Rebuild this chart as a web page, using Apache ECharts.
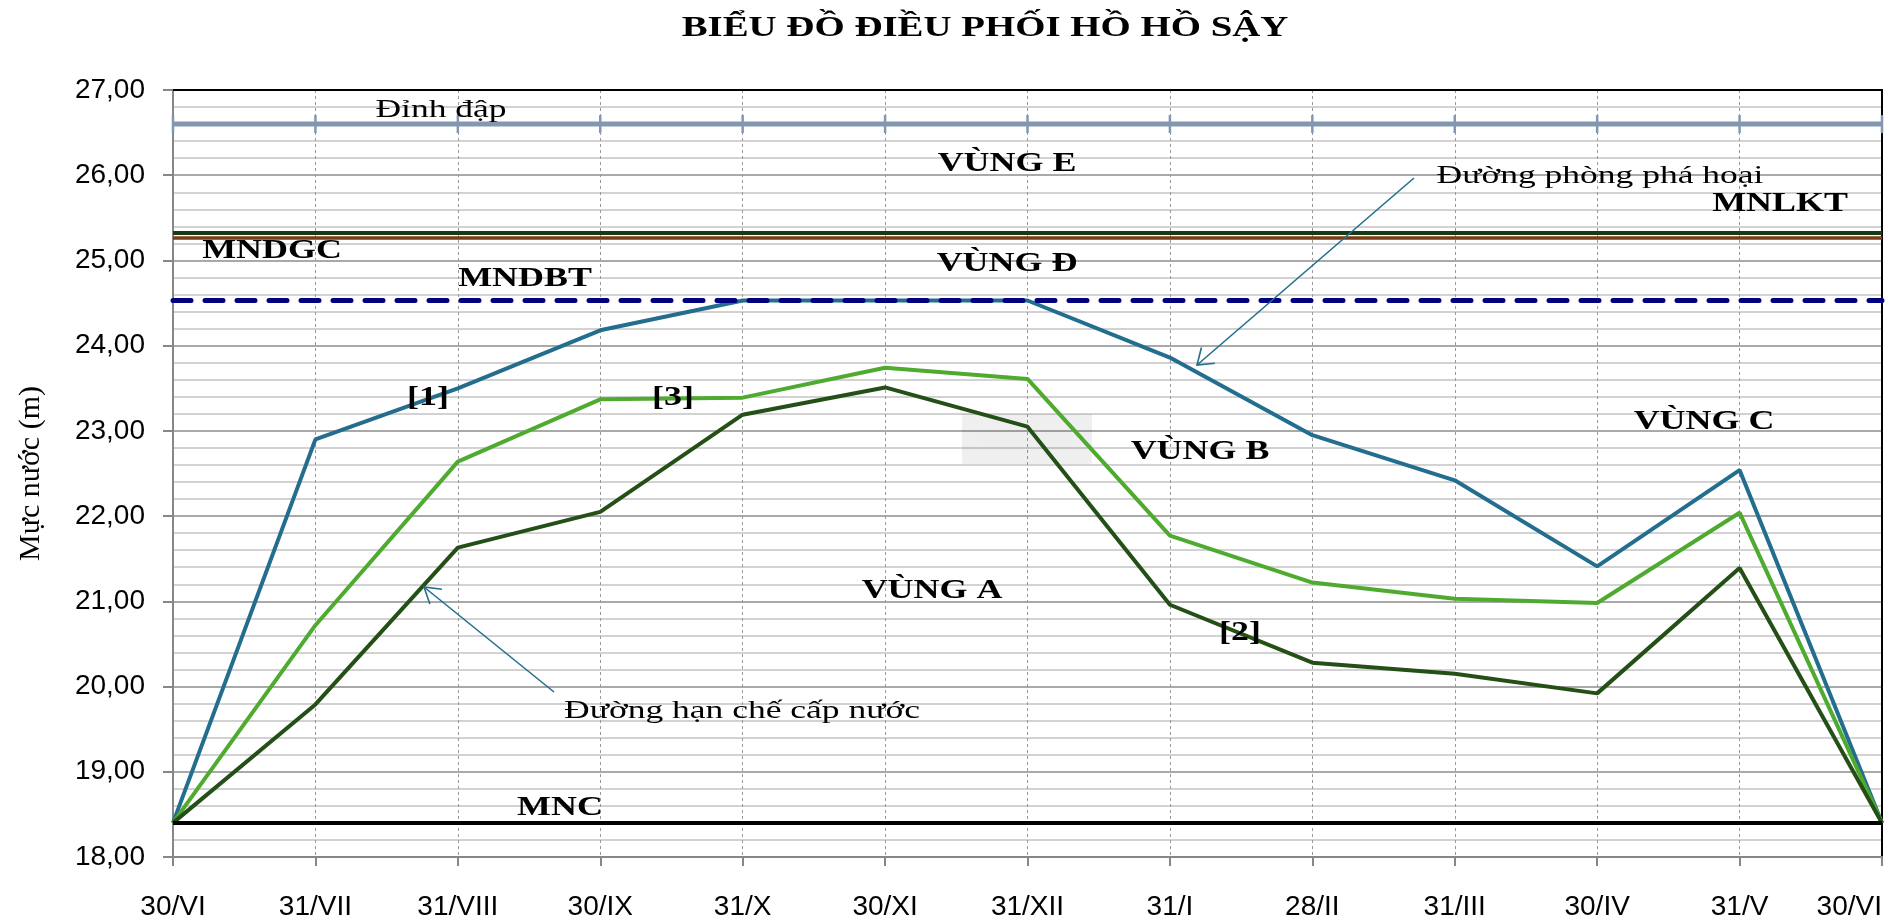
<!DOCTYPE html>
<html>
<head>
<meta charset="utf-8">
<script src="https://cdn.jsdelivr.net/npm/echarts@6/dist/echarts.min.js"></script>
<style>
html,body{margin:0;padding:0;background:#fff;}
#chart{width:1901px;height:921px;}
</style>
</head>
<body>
<div id="chart"></div>
<script>
// ---- Data ----
const categories = ['30/VI','31/VII','31/VIII','30/IX','31/X','30/XI','31/XII','31/I','28/II','31/III','30/IV','31/V','30/VI'];
// [1] Đường phòng phá hoại
const floodGuardLine = [18.40, 22.90, 23.50, 24.18, 24.53, 24.53, 24.53, 23.86, 22.95, 22.42, 21.41, 22.54, 18.40];
// [3]
const line3 = [18.40, 20.72, 22.64, 23.37, 23.39, 23.74, 23.61, 21.77, 21.22, 21.03, 20.98, 22.04, 18.40];
// [2] Đường hạn chế cấp nước
const supplyLimitLine = [18.40, 19.79, 21.63, 22.05, 23.19, 23.51, 23.05, 20.96, 20.28, 20.15, 19.92, 21.39, 18.40];
// Characteristic water levels (m)
const DINH_DAP = 26.60;
const MNLKT = 25.33;
const MNDGC = 25.27;
const MNDBT = 24.53;
const MNC = 18.40;
const yMin = 18, yMax = 27, yStep = 1;

const chart = echarts.init(document.getElementById('chart'));

const SERIF = 'Liberation Serif';
const SANS = 'Liberation Sans';

function txt(text, cx, cy, bold, size, sx) {
  return {
    type: 'text', x: cx, y: cy, scaleX: sx, z: 100,
    style: {
      text: text, fill: '#000', align: 'center', verticalAlign: 'middle',
      fontFamily: SERIF, fontSize: size, fontWeight: bold ? 'bold' : 'normal'
    }
  };
}
function arrow(x1, y1, x2, y2, angDeg, len) {
  const a = Math.atan2(y1 - y2, x1 - x2);
  const d = angDeg * Math.PI / 180;
  const p1 = [x2 + len * Math.cos(a + d), y2 + len * Math.sin(a + d)];
  const p2 = [x2 + len * Math.cos(a - d), y2 + len * Math.sin(a - d)];
  const st = { stroke: '#236e8e', lineWidth: 1.6, fill: null };
  return [
    { type: 'line', z: 100, shape: { x1: x1, y1: y1, x2: x2, y2: y2 }, style: st },
    { type: 'polyline', z: 100, shape: { points: [p1, [x2, y2], p2] }, style: st }
  ];
}

const BOLD = 27, BSX = 1.33, REG = 25, RSX = 1.42;

const graphics = [
  { type: 'rect', z: 1, shape: { x: 962, y: 414, width: 130, height: 50 },
    style: { fill: 'rgba(0,0,0,0.06)', shadowBlur: 16, shadowColor: 'rgba(0,0,0,0.15)' } },
  txt('BIỂU ĐỒ ĐIỀU PHỐI HỒ HỒ SẬY', 985, 29, true, 29, 1.34),
  txt('Đỉnh đập', 441, 110, false, REG, RSX),
  txt('MNDGC', 272, 251, true, BOLD, BSX),
  txt('MNDBT', 525, 279, true, BOLD, BSX),
  txt('VÙNG E', 1007, 164, true, BOLD, BSX),
  txt('VÙNG Đ', 1007, 264, true, BOLD, BSX),
  txt('MNLKT', 1780, 204, true, BOLD, BSX),
  txt('Đường phòng phá hoại', 1600, 176, false, REG, RSX),
  txt('[1]', 428, 398, true, BOLD, BSX),
  txt('[3]', 673, 398, true, BOLD, BSX),
  txt('VÙNG B', 1200, 452, true, BOLD, BSX),
  txt('VÙNG A', 932, 591, true, BOLD, BSX),
  txt('VÙNG C', 1704, 422, true, BOLD, BSX),
  txt('[2]', 1240, 633, true, BOLD, BSX),
  txt('MNC', 560, 808, true, BOLD, BSX),
  txt('Đường hạn chế cấp nước', 742, 711, false, REG, RSX)
].concat(arrow(1414, 178, 1197, 365, 35, 18))
 .concat(arrow(554, 692, 424, 587, 32, 18));

const option = {
  animation: false,
  backgroundColor: '#fff',
  grid: { left: 173, right: 19, top: 90, bottom: 63, containLabel: false },
  xAxis: [{
    type: 'category', data: categories, boundaryGap: false,
    axisLine: { show: true, lineStyle: { color: '#878787', width: 2 } },
    axisTick: { show: true, length: 9, lineStyle: { color: '#878787', width: 2 } },
    axisLabel: { interval: 0, margin: 36, fontFamily: SANS, fontSize: 28, color: '#000', alignMaxLabel: 'right' },
    splitLine: { show: true, lineStyle: { color: '#9a9a9a', width: 1, type: [3, 3] } }
  }, {
    type: 'category', data: categories, boundaryGap: false, position: 'top',
    axisLine: { show: true, lineStyle: { color: '#000', width: 2 } },
    axisTick: { show: false }, axisLabel: { show: false }, splitLine: { show: false }
  }],
  yAxis: [{
    type: 'value', min: yMin, max: yMax, interval: yStep,
    name: 'Mực nước (m)', nameLocation: 'middle', nameRotate: 90, nameGap: 127,
    nameTextStyle: { fontFamily: SERIF, fontSize: 30, color: '#000' },
    axisLine: { show: true, lineStyle: { color: '#878787', width: 2 } },
    axisTick: { show: true, length: 10, lineStyle: { color: '#878787', width: 2 } },
    axisLabel: { margin: 28, fontFamily: SANS, fontSize: 28, color: '#000',
      formatter: v => v.toFixed(2).replace('.', ',') },
    splitLine: { show: true, lineStyle: { color: '#8c8c8c', width: 1.5 } },
    minorTick: { show: false, splitNumber: 5 },
    minorSplitLine: { show: true, lineStyle: { color: '#c3c3c3', width: 1.5 } }
  }, {
    type: 'value', min: yMin, max: yMax, interval: yStep, position: 'right',
    axisLine: { show: true, lineStyle: { color: '#000', width: 2 } },
    axisTick: { show: false }, axisLabel: { show: false }, splitLine: { show: false }
  }],
  series: [
    {
      name: 'Đỉnh đập', type: 'line', data: categories.map(() => DINH_DAP),
      symbol: 'rect', symbolSize: [2.5, 18], showSymbol: true,
      itemStyle: { color: '#8497b0' },
      lineStyle: { color: '#8497b0', width: 5 },
      silent: true,
      markLine: {
        silent: true, symbol: ['none', 'none'], label: { show: false },
        data: [
          { name: 'MNLKT', yAxis: MNLKT, lineStyle: { color: '#163b14', width: 4, type: 'solid' } },
          { name: 'MNDGC', yAxis: MNDGC, lineStyle: { color: '#7a3b12', width: 3.5, type: 'solid' } },
          { name: 'MNDBT', yAxis: MNDBT, lineStyle: { color: '#000080', width: 5, type: [18, 14], cap: 'round' } },
          { name: 'MNC', yAxis: MNC, lineStyle: { color: '#000000', width: 4, type: 'solid' } }
        ]
      }
    },
    { name: '[1]', type: 'line', data: floodGuardLine, symbol: 'none',
      lineStyle: { color: '#236e8e', width: 4 }, itemStyle: { color: '#236e8e' } },
    { name: '[3]', type: 'line', data: line3, symbol: 'none',
      lineStyle: { color: '#4eab2f', width: 4 }, itemStyle: { color: '#4eab2f' } },
    { name: '[2]', type: 'line', data: supplyLimitLine, symbol: 'none',
      lineStyle: { color: '#244f16', width: 4 }, itemStyle: { color: '#244f16' } }
  ],
  graphic: graphics
};
chart.setOption(option);
</script>
</body>
</html>
